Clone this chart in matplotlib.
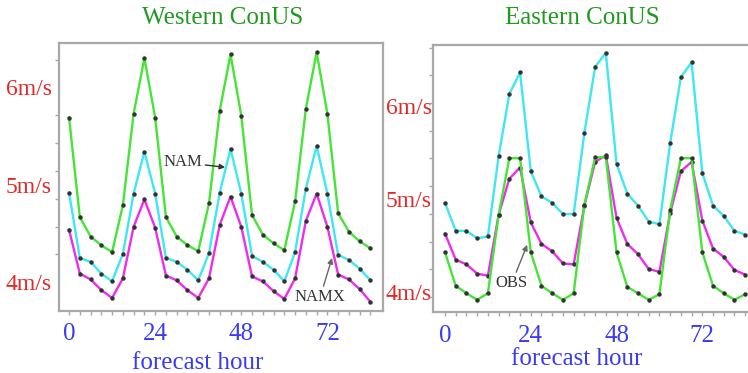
import numpy as np
import matplotlib
matplotlib.use("Agg")
import matplotlib.pyplot as plt
from matplotlib.ticker import FixedLocator

# --- data (m/s), every 3 forecast hours from 0 to 84 ---
hours = list(range(0, 85, 3))

west_obs = [5.69, 4.67, 4.47, 4.38, 4.31, 4.79, 5.73, 6.30, 5.69, 4.67, 4.47, 4.38, 4.32, 4.81, 5.76,
            6.34, 5.71, 4.69, 4.49, 4.40, 4.33, 4.83, 5.78, 6.36, 5.73, 4.71, 4.52, 4.42, 4.35]
west_nam = [4.92, 4.25, 4.21, 4.09, 4.01, 4.29, 4.91, 5.34, 4.91, 4.25, 4.21, 4.13, 4.02, 4.30, 4.92,
            5.37, 4.91, 4.27, 4.21, 4.13, 4.01, 4.31, 4.96, 5.40, 4.91, 4.28, 4.23, 4.14, 4.02]
west_namx = [4.54, 4.09, 4.03, 3.92, 3.84, 4.04, 4.57, 4.85, 4.56, 4.07, 4.02, 3.92, 3.84, 4.04, 4.59,
             4.88, 4.57, 4.06, 4.01, 3.91, 3.83, 4.04, 4.63, 4.91, 4.57, 4.08, 4.03, 3.93, 3.80]

east_obs = [4.43, 4.07, 3.99, 3.92, 3.99, 4.83, 5.44, 5.44, 4.43, 4.07, 3.99, 3.92, 3.99, 4.94, 5.45,
            5.45, 4.43, 4.06, 3.99, 3.92, 3.98, 4.88, 5.44, 5.44, 4.43, 4.07, 3.99, 3.92, 3.98]
east_nam = [4.96, 4.66, 4.66, 4.58, 4.60, 5.46, 6.13, 6.36, 5.30, 5.03, 4.96, 4.84, 4.84, 5.71, 6.42,
            6.57, 5.38, 5.06, 4.93, 4.76, 4.73, 5.60, 6.31, 6.47, 5.28, 4.93, 4.82, 4.66, 4.62]
east_namx = [4.63, 4.35, 4.30, 4.20, 4.18, 4.83, 5.22, 5.34, 4.75, 4.52, 4.44, 4.31, 4.30, 4.93, 5.40,
             5.47, 4.80, 4.52, 4.41, 4.25, 4.22, 4.85, 5.30, 5.40, 4.77, 4.47, 4.38, 4.24, 4.19]

titles = ["Western ConUS", "Eastern ConUS"]
speed_ticks = [4, 5, 6]
speed_labels = ["4m/s", "5m/s", "6m/s"]
hour_ticks = [0, 24, 48, 72]

GREEN = "#44e534"
CYAN = "#3ee8f2"
MAGENTA = "#ee2cee"
DOT = "#333333"
FRAME = "#a8a8a8"
SERIF = ["Liberation Serif", "DejaVu Serif"]

W, H = 748, 373
fig = plt.figure(figsize=(W / 100, H / 100), dpi=100)


def px_axes(x0, y0, x1, y1):
    # axes box in pixel coords (top-left origin)
    return fig.add_axes([x0 / W, 1 - y1 / H, (x1 - x0) / W, (y1 - y0) / H])


def style(ax, minor_y, label_pad):
    for side in ["left", "bottom", "top", "right"]:
        ax.spines[side].set_color(FRAME)
        ax.spines[side].set_linewidth(1.6)
    ax.set_xticks(hour_ticks)
    ax.set_xticklabels([str(h) for h in hour_ticks], fontfamily=SERIF,
                       fontsize=18, color="#3a3af0")
    ax.xaxis.set_minor_locator(FixedLocator(hours))
    ax.tick_params(axis="x", which="both", direction="out", length=3,
                   width=1, color=FRAME, pad=6)
    ax.set_yticks(speed_ticks)
    ax.set_yticklabels(speed_labels, fontfamily=SERIF, fontsize=17, color="#e02a2a")
    ax.tick_params(axis="y", which="major", length=0, pad=label_pad)
    ax.yaxis.set_minor_locator(FixedLocator(minor_y))
    ax.tick_params(axis="y", which="minor", direction="out", length=3,
                   width=1, color=FRAME)


def draw(ax, series):
    for vals, col in series:
        ax.plot(hours, vals, color=col, lw=1.7, marker="o", ms=2.2,
                mfc=DOT, mec=DOT, zorder=3)


# --- Western ConUS ---
ax1 = px_axes(59, 43, 383, 311)
draw(ax1, [(west_obs, GREEN), (west_nam, CYAN), (west_namx, MAGENTA)])
ax1.set_xlim(-2.8, 87.5)
ax1.set_ylim(3.706, 6.455)
style(ax1, [4 + k * 2 / 7 for k in range(9)], 5)
ax1.annotate("NAM", xy=(43.5, 5.18), xytext=(31.8, 5.23), ha="center", va="center",
             fontfamily=SERIF, fontsize=12, color="#333333",
             arrowprops=dict(arrowstyle="-|>", color="#333333", lw=1, shrinkA=0, shrinkB=0,
                             mutation_scale=8))
ax1.annotate("NAMX", xy=(73.3, 4.25), xytext=(70.0, 3.85), ha="center", va="center",
             fontfamily=SERIF, fontsize=12, color="#333333",
             arrowprops=dict(arrowstyle="-|>", color="#666666", lw=1, shrinkA=0, shrinkB=0,
                             mutation_scale=8))

# --- Eastern ConUS ---
ax2 = px_axes(433, 45, 762, 312)
draw(ax2, [(east_nam, CYAN), (east_namx, MAGENTA), (east_obs, GREEN)])
ax2.set_xlim(-3.36, 88.7)
ax2.set_ylim(3.789, 6.655)
style(ax2, [3.95 + k * 0.2975 for k in range(10)], 1)
ax2.annotate("OBS", xy=(23.0, 4.51), xytext=(18.7, 4.10), ha="center", va="center",
             fontfamily=SERIF, fontsize=12, color="#333333",
             arrowprops=dict(arrowstyle="-|>", color="#666666", lw=1, shrinkA=0, shrinkB=0,
                             mutation_scale=8))

# titles and axis labels placed like the original
fig.text(223 / W, 1 - 18 / H, titles[0], ha="center", va="center",
         fontfamily=SERIF, fontsize=18, color="#1f9a1f")
fig.text(582 / W, 1 - 18 / H, titles[1], ha="center", va="center",
         fontfamily=SERIF, fontsize=18, color="#1f9a1f")
fig.text(198 / W, 1 - 363 / H, "forecast hour", ha="center", va="center",
         fontfamily=SERIF, fontsize=18, color="#3a3af0")
fig.text(577 / W, 1 - 359 / H, "forecast hour", ha="center", va="center",
         fontfamily=SERIF, fontsize=18, color="#3a3af0")

fig.savefig("out.png", dpi=100)
